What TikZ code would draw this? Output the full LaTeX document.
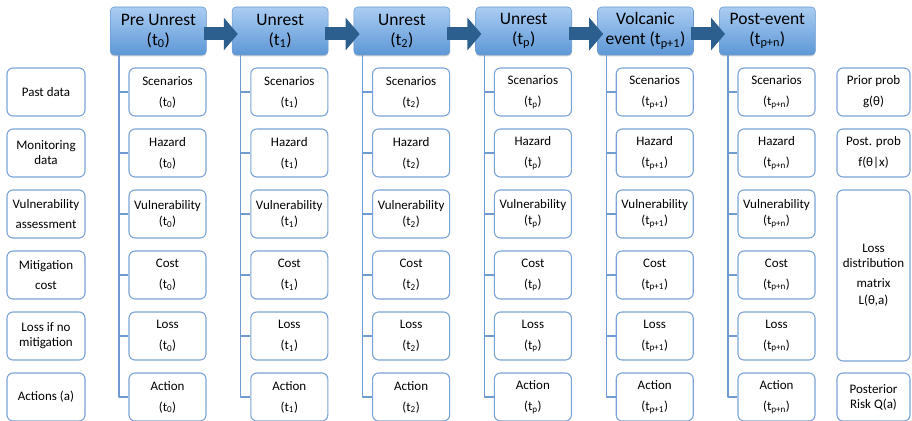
\documentclass[tikz,border=0pt]{standalone}
\usepackage{fontspec}
\setmainfont{Carlito}
\usetikzlibrary{arrows.meta,shadows}
\definecolor{boxline}{HTML}{7BA3D6}
\definecolor{treeline}{HTML}{6F9BD1}
\definecolor{hdrtop}{HTML}{AACDF2}
\definecolor{hdrbot}{HTML}{5D97D6}
\definecolor{hdrline}{HTML}{6C9CD3}
\definecolor{flowcol}{HTML}{2C5E8E}

\begin{document}
\begin{tikzpicture}[x=1pt, y=-1pt, line join=round,
  hdr/.style={rectangle, rounded corners=4pt, draw=hdrline, line width=0.6pt,
              top color=hdrtop, bottom color=hdrbot, minimum width=96pt,
              minimum height=48pt, inner sep=1pt, align=center,
              font=\fontsize{17.5}{20}\selectfont,
              drop shadow={shadow xshift=0pt, shadow yshift=-1.5pt,
                           opacity=0.3, fill=black!60}},
  cell/.style={rectangle, rounded corners=6pt, draw=boxline, line width=1.1pt,
               fill=white, minimum width=77pt, minimum height=48pt,
               inner sep=1pt, align=center, font=\fontsize{13}{15}\selectfont},
  side/.style={cell, minimum width=78pt},
  tree/.style={treeline, line width=1.1pt},
  flow/.style={-{Triangle[length=14pt,width=32pt]}, flowcol, line width=13pt}]

\useasboundingbox (0,0) rectangle (912,420);

% ================================================================ time steps
\foreach \lbl [count=\i from 0] in {{Pre Unrest\\(t\textsubscript{0})},
    {Unrest\\(t\textsubscript{1})}, {Unrest\\(t\textsubscript{2})},
    {Unrest\\(t\textsubscript{p})}, {Volcanic\\event (t\textsubscript{p+1})},
    {Post-event\\(t\textsubscript{p+n})}}
  \node[hdr] (h\i) at (158.3+121.8*\i, 31) {\lbl};

% ================================================================ the tree under each step
\foreach \s [count=\i from 0] in {0,1,2,p,p+1,p+n}
  \foreach \w/\g [count=\r] in {Scenarios/6pt, Hazard/6pt, Vulnerability/1pt,
                                Cost/6pt, Loss/6pt, Action/6pt} {
    \node[cell] (c\i-\r) at (167.5+121.8*\i, 31+61*\r) {\w\\[\g](t\textsubscript{\s})};
    \draw[tree] ([xshift=9pt]h\i.south west) |- (c\i-\r.west);
  }

\foreach \i [evaluate=\i as \j using int(\i+1)] in {0,...,4}
  \draw[flow] ([shift={(-3pt,-3pt)}]h\i.east) -- ([shift={(6pt,-3pt)}]h\j.west);

% ================================================================ inputs
\foreach \lbl [count=\r] in {{Past data}, {Monitoring\\data},
    {Vulnerability\\[5pt]assessment}, {Mitigation\\[5pt]cost},
    {Loss if no\\mitigation}, {Actions (a)}}
  \node[side] (in\r) at (46, 31+61*\r) {\lbl};

% ================================================================ decision side
\node[side, minimum width=73pt] (prior) at (873.5,92) {Prior prob\\[6pt]g(θ)};
\node[side, minimum width=73pt] (post) at (873.5,153) {Post. prob\\[6pt]f(θ|x)};
\node[side, minimum width=73pt, minimum height=171pt] (lossmat) at (873.5,275.5)
  {Loss\\distribution\\[5pt]matrix\\[2pt]L(θ,a)};
\node[side, minimum width=73pt] (risk) at (873.5,397) {Posterior\\Risk Q(a)};

\end{tikzpicture}
\end{document}
